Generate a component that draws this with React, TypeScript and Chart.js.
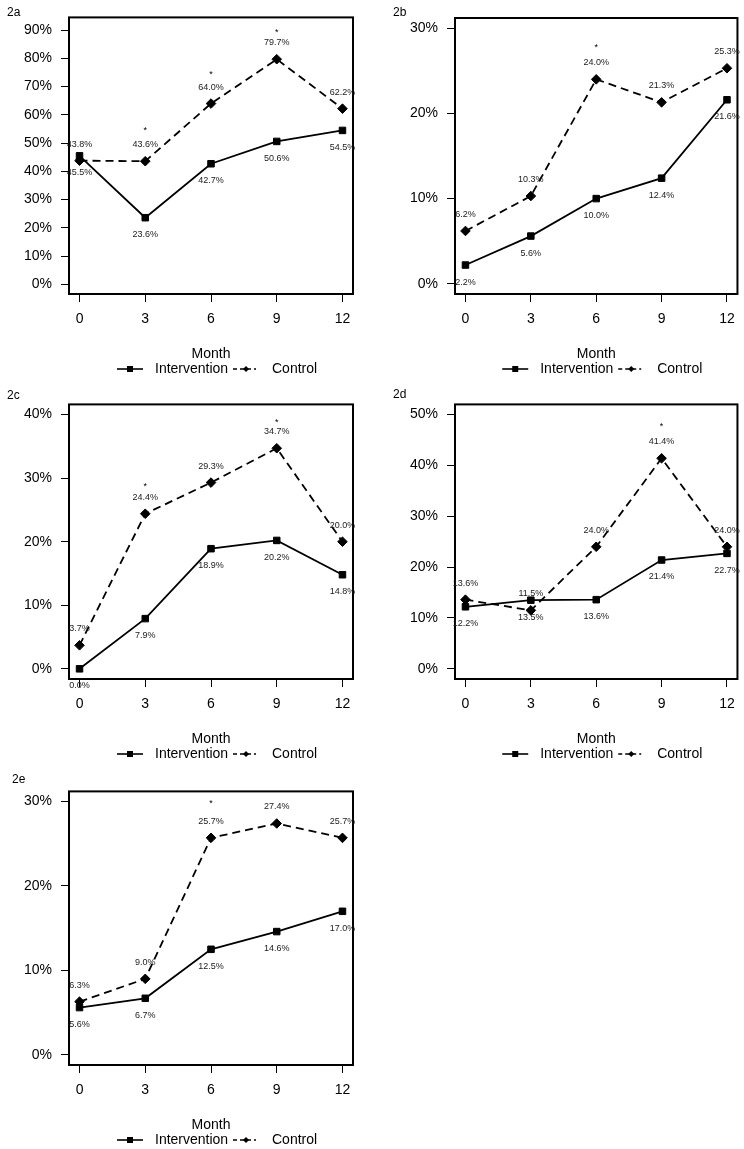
import { useEffect, useRef } from 'react'
import { Chart, registerables } from 'chart.js'

Chart.register(...registerables)

const FONT = '"Liberation Sans", Arial, Helvetica, sans-serif'

const months = [0, 3, 6, 9, 12]

// 2a
const intervention2a = [45.5, 23.6, 42.7, 50.6, 54.5]
const control2a = [43.8, 43.6, 64.0, 79.7, 62.2]
const stars2a = [[3, 55], [6, 75], [9, 90]]
const yTicks2a = [0, 10, 20, 30, 40, 50, 60, 70, 80, 90]

// 2b
const intervention2b = [2.2, 5.6, 10.0, 12.4, 21.6]
const control2b = [6.2, 10.3, 24.0, 21.3, 25.3]
const stars2b = [[6, 28]]
const yTicks2b = [0, 10, 20, 30]

// 2c
const intervention2c = [0.0, 7.9, 18.9, 20.2, 14.8]
const control2c = [3.7, 24.4, 29.3, 34.7, 20.0]
const stars2c = [[3, 29], [9, 39]]
const yTicks2c = [0, 10, 20, 30, 40]

// 2d
const intervention2d = [12.2, 13.5, 13.6, 21.4, 22.7]
const control2d = [13.6, 11.5, 24.0, 41.4, 24.0]
const stars2d = [[9, 48]]
const yTicks2d = [0, 10, 20, 30, 40, 50]

// 2e
const intervention2e = [5.6, 6.7, 12.5, 14.6, 17.0]
const control2e = [6.3, 9.0, 25.7, 27.4, 25.7]
const stars2e = [[6, 30]]
const yTicks2e = [0, 10, 20, 30]

type Box = { left: number; top: number; right: number; bottom: number }

type Panel = {
  name: string
  intervention: number[]
  control: number[]
  stars: number[][]
  yTicks: number[]
  yMin: number
  yMax: number
  x: number
  y: number
  w: number
  h: number
  box: Box
  tag: { x: number; y: number }
}

const panels: Panel[] = [
  {
    name: '2a', intervention: intervention2a, control: control2a, stars: stars2a, yTicks: yTicks2a,
    yMin: -3.4, yMax: 94.5, x: 0, y: 0, w: 372, h: 387,
    box: { left: 69, top: 16, right: 353, bottom: 294 }, tag: { x: 7, y: 13 },
  },
  {
    name: '2b', intervention: intervention2b, control: control2b, stars: stars2b, yTicks: yTicks2b,
    yMin: -1.2, yMax: 31.2, x: 372, y: 0, w: 372, h: 387,
    box: { left: 83, top: 18, right: 366, bottom: 294 }, tag: { x: 21, y: 13 },
  },
  {
    name: '2c', intervention: intervention2c, control: control2c, stars: stars2c, yTicks: yTicks2c,
    yMin: -1.6, yMax: 41.6, x: 0, y: 387, w: 372, h: 387,
    box: { left: 69, top: 16, right: 353, bottom: 292 }, tag: { x: 7, y: 9 },
  },
  {
    name: '2d', intervention: intervention2d, control: control2d, stars: stars2d, yTicks: yTicks2d,
    yMin: -2, yMax: 52, x: 372, y: 387, w: 372, h: 387,
    box: { left: 83, top: 17, right: 366, bottom: 292 }, tag: { x: 21, y: 8 },
  },
  {
    name: '2e', intervention: intervention2e, control: control2e, stars: stars2e, yTicks: yTicks2e,
    yMin: -1.2, yMax: 31.2, x: 0, y: 774, w: 372, h: 375,
    box: { left: 69, top: 16, right: 353, bottom: 291 }, tag: { x: 12, y: 6 },
  },
]

const toPoints = (values: number[]) => months.map((m, i) => ({ x: m, y: values[i] }))

function makeAnnotate(p: Panel) {
  return {
    id: 'annotate',
    afterDatasetsDraw(chart: any) {
      const ctx = chart.ctx as CanvasRenderingContext2D
      const { left, right, top, bottom } = chart.chartArea
      ctx.save()

      // plot frame
      ctx.strokeStyle = '#000'
      ctx.lineWidth = 2
      ctx.strokeRect(left, top, right - left, bottom - top)

      // value labels: intervention below, control above
      ctx.font = `9px ${FONT}`
      ctx.fillStyle = '#1a1a1a'
      ctx.textAlign = 'center'
      ctx.textBaseline = 'middle'
      chart.data.datasets.forEach((ds: any, i: number) => {
        const meta = chart.getDatasetMeta(i)
        meta.data.forEach((pt: any, j: number) => {
          const v = ds.data[j].y as number
          const dy = i === 0 ? 17 : -16.5
          ctx.fillText(v.toFixed(1) + '%', pt.x, pt.y + dy)
        })
      })

      // significance stars
      const xs = chart.scales.x
      const ys = chart.scales.y
      ctx.font = `9px ${FONT}`
      ctx.fillStyle = '#000'
      p.stars.forEach(([m, v]) => {
        ctx.fillText('*', xs.getPixelForValue(m), ys.getPixelForValue(v) + 2)
      })

      // axis title and legend
      const cx = (left + right) / 2
      ctx.font = `14px ${FONT}`
      ctx.fillText('Month', cx, bottom + 60)

      const ly = bottom + 75
      ctx.strokeStyle = '#000'
      ctx.lineWidth = 1.6
      ctx.setLineDash([])
      ctx.beginPath()
      ctx.moveTo(cx - 94, ly)
      ctx.lineTo(cx - 68, ly)
      ctx.stroke()
      ctx.fillRect(cx - 84, ly - 3, 6, 6)

      ctx.setLineDash([4, 3])
      ctx.beginPath()
      ctx.moveTo(cx + 22, ly)
      ctx.lineTo(cx + 45, ly)
      ctx.stroke()
      ctx.setLineDash([])
      ctx.beginPath()
      ctx.moveTo(cx + 35, ly - 3)
      ctx.lineTo(cx + 38, ly)
      ctx.lineTo(cx + 35, ly + 3)
      ctx.lineTo(cx + 32, ly)
      ctx.closePath()
      ctx.fill()

      ctx.textAlign = 'left'
      ctx.fillText('Intervention', cx - 56, ly)
      ctx.fillText('Control', cx + 61, ly)

      // panel tag
      ctx.font = `12px ${FONT}`
      ctx.fillText(p.name, p.tag.x, p.tag.y)

      ctx.restore()
    },
  }
}

function PanelChart({ p }: { p: Panel }) {
  const canvasRef = useRef<HTMLCanvasElement>(null)

  useEffect(() => {
    const canvas = canvasRef.current
    if (!canvas) return
    const tickStyle = {
      font: { family: FONT, size: 14 },
      color: '#000',
      padding: 9,
    }
    const gridStyle = {
      drawOnChartArea: false,
      drawTicks: true,
      tickLength: 8,
      color: '#000',
      lineWidth: 1,
    }
    const chart = new Chart(canvas, {
      type: 'line',
      data: {
        datasets: [
          {
            label: 'Intervention',
            data: toPoints(p.intervention),
            borderColor: '#000',
            backgroundColor: '#000',
            borderWidth: 1.8,
            pointStyle: 'rect',
            pointRadius: 4.6,
            pointBorderWidth: 1,
            pointBackgroundColor: '#000',
            pointBorderColor: '#000',
            tension: 0,
            fill: false,
          },
          {
            label: 'Control',
            data: toPoints(p.control),
            borderColor: '#000',
            backgroundColor: '#000',
            borderWidth: 1.8,
            borderDash: [8, 5],
            pointStyle: 'rectRot',
            pointRadius: 4.8,
            pointBorderWidth: 1,
            pointBackgroundColor: '#000',
            pointBorderColor: '#000',
            tension: 0,
            fill: false,
          },
        ],
      },
      options: {
        animation: false,
        responsive: false,
        events: [],
        layout: {
          padding: { left: 0, top: p.box.top, right: p.w - p.box.right, bottom: 0 },
        },
        plugins: {
          legend: { display: false },
          tooltip: { enabled: false },
          title: { display: false },
        },
        scales: {
          x: {
            type: 'linear',
            min: -0.48,
            max: 12.48,
            afterBuildTicks: (s: any) => {
              s.ticks = months.map((v) => ({ value: v }))
            },
            afterFit: (s: any) => {
              s.height = p.h - p.box.bottom
            },
            grid: gridStyle,
            border: { display: false },
            ticks: { ...tickStyle, callback: (v: any) => String(v) },
          },
          y: {
            type: 'linear',
            min: p.yMin,
            max: p.yMax,
            afterBuildTicks: (s: any) => {
              s.ticks = p.yTicks.map((v) => ({ value: v }))
            },
            afterFit: (s: any) => {
              s.width = p.box.left
            },
            grid: gridStyle,
            border: { display: false },
            ticks: { ...tickStyle, callback: (v: any) => v + '%' },
          },
        },
      },
      plugins: [makeAnnotate(p)],
    })
    return () => chart.destroy()
  }, [p])

  return (
    <canvas
      ref={canvasRef}
      width={p.w}
      height={p.h}
      style={{ position: 'absolute', left: p.x, top: p.y, width: p.w, height: p.h }}
    />
  )
}

export default function App() {
  return (
    <div
      style={{
        position: 'absolute',
        left: 0,
        top: 0,
        width: 744,
        height: 1149,
        background: '#fff',
        overflow: 'hidden',
      }}
    >
      {panels.map((p) => (
        <PanelChart key={p.name} p={p} />
      ))}
    </div>
  )
}
